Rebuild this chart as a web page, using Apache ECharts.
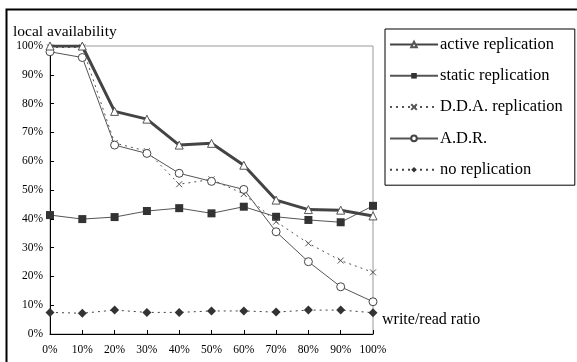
<!DOCTYPE html>
<html>
<head>
    <meta charset="utf-8">
    <title>local availability</title>
    <script src="https://cdn.jsdelivr.net/npm/echarts@6/dist/echarts.min.js"></script>
</head>
<body style="margin:0;background:#fff">
    <div id="main" style="width:577px;height:362px;"></div>
    <script type="text/javascript">
        // x categories (write/read ratio)
        var ratios = ['0%', '10%', '20%', '30%', '40%', '50%', '60%', '70%', '80%', '90%', '100%'];
        // local availability, in percent
        var active = [100, 100, 77.3, 74.6, 65.6, 66.2, 58.6, 46.5, 43.2, 43, 41];
        var staticRep = [41.3, 39.9, 40.6, 42.7, 43.7, 41.9, 44.2, 40.7, 39.6, 38.8, 44.5];
        var dda = [99.5, 99.5, 66.3, 63.5, 52, 53.7, 48.6, 39, 31.5, 25.5, 21.4];
        var adr = [98, 96, 65.6, 62.7, 55.8, 53, 50.2, 35.5, 25.1, 16.4, 11.2];
        var noRep = [7.5, 7.2, 8.3, 7.5, 7.5, 8, 8, 7.6, 8.3, 8.3, 7.4];

        var serif = '"Liberation Serif", "DejaVu Serif", serif';
        var dom = document.getElementById('main');
        var myChart = echarts.init(dom);

        var crossPath = 'path://M0,0L10,10M10,0L0,10';

        var option = {
            animation: false,
            backgroundColor: '#fff',
            grid: {
                left: 50, top: 46, right: 204, bottom: 28,
                show: true, borderColor: '#999', borderWidth: 1
            },
            legend: {
                orient: 'vertical',
                left: 385, top: 29,
                padding: [7, 12, 7, 4],
                itemWidth: 48, itemHeight: 7, itemGap: 14.3,
                borderColor: '#000', borderWidth: 1,
                textStyle: { fontFamily: serif, fontSize: 16.5, color: '#000', padding: [0, 0, 0, -3] },
                data: ['active replication', 'static replication', 'D.D.A. replication', 'A.D.R.', 'no replication']
            },
            xAxis: {
                type: 'category',
                data: ratios,
                boundaryGap: false,
                name: 'write/read ratio',
                nameLocation: 'end',
                nameGap: 9,
                nameTextStyle: { fontFamily: serif, fontSize: 16, color: '#000', verticalAlign: 'top', padding: [-22, 0, 0, 0] },
                axisLine: { lineStyle: { color: '#000', width: 1 } },
                axisTick: { inside: true, length: 4, interval: 0, lineStyle: { color: '#000' } },
                axisLabel: { fontFamily: serif, fontSize: 11.5, color: '#000', margin: 10, interval: 0 }
            },
            yAxis: {
                type: 'value',
                min: 0, max: 100, interval: 10,
                name: 'local availability',
                nameLocation: 'end',
                nameGap: 4,
                nameTextStyle: { fontFamily: serif, fontSize: 15.5, color: '#000', align: 'left', padding: [0, 0, 0, -37] },
                splitLine: { show: false },
                axisLine: { show: true, lineStyle: { color: '#000', width: 1 } },
                axisTick: { show: true, inside: true, length: 4, lineStyle: { color: '#000' } },
                axisLabel: { fontFamily: serif, fontSize: 11.5, color: '#000', formatter: '{value}%', margin: 7 }
            },
            series: [
                {
                    name: 'active replication', type: 'line', data: active,
                    symbol: 'triangle', symbolSize: 8, showAllSymbol: true,
                    lineStyle: { color: '#444', width: 3 },
                    itemStyle: { color: '#fff', borderColor: '#555', borderWidth: 1 },
                    z: 5
                },
                {
                    name: 'static replication', type: 'line', data: staticRep,
                    symbol: 'rect', symbolSize: 8,
                    lineStyle: { color: '#555', width: 1 },
                    itemStyle: { color: '#333', borderColor: '#333', borderWidth: 0 }
                },
                {
                    name: 'D.D.A. replication', type: 'line', data: dda,
                    symbol: crossPath, symbolSize: 6,
                    lineStyle: { color: '#555', width: 1, type: [2, 4] },
                    itemStyle: { color: 'none', borderColor: '#555', borderWidth: 1 }
                },
                {
                    name: 'A.D.R.', type: 'line', data: adr,
                    symbol: 'circle', symbolSize: 8,
                    lineStyle: { color: '#555', width: 1 },
                    itemStyle: { color: '#fff', borderColor: '#444', borderWidth: 1 }
                },
                {
                    name: 'no replication', type: 'line', data: noRep,
                    symbol: 'diamond', symbolSize: 9,
                    lineStyle: { color: '#444', width: 1, type: [2, 4] },
                    itemStyle: { color: '#333', borderWidth: 0 }
                }
            ],
            graphic: [
                {
                    type: 'rect', silent: true, z: -1,
                    shape: { x: 6.5, y: 9.5, width: 580, height: 360 },
                    style: { fill: 'none', stroke: '#000', lineWidth: 2 }
                }
            ]
        };
        myChart.setOption(option);
    </script>
</body>
</html>
